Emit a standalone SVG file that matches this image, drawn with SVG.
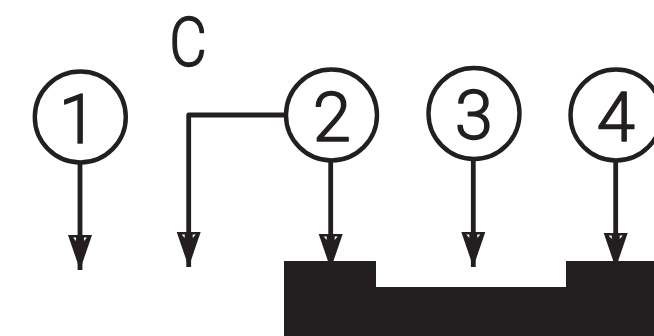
<svg xmlns="http://www.w3.org/2000/svg" width="654" height="336" viewBox="0 0 654 336">
<style>
.ring{fill:none;stroke:#231f20;stroke-width:4.4}
.num{font-family:Roboto,"Liberation Sans",sans-serif;font-weight:300;font-size:69px;fill:#231f20;stroke:#231f20;stroke-width:1.500;stroke-linejoin:round;text-anchor:middle}
.wire{fill:none;stroke:#231f20;stroke-width:4.800;stroke-linejoin:round}
.black{fill:#231f20}
</style>
<defs>
<marker id="head" markerUnits="userSpaceOnUse" markerWidth="40" markerHeight="30" viewBox="-36 -15 40 30" refX="0" refY="0" orient="auto" overflow="visible">
<path d="M-35,-12 L-35,12 L0,0 Z M-32.500,-7 L-32.500,-4 L-29,-4 Z M-32.500,7 L-32.500,4 L-29,4 Z" fill="#231f20" fill-rule="evenodd"/>
</marker>
</defs>
<rect width="654" height="336" fill="#fff"/>
<g id="connectors">
<path class="wire" d="M80,163V270" marker-end="url(#head)"/>
<path class="wire" d="M284,115H188.700V267" marker-end="url(#head)"/>
<path class="wire" d="M330.700,161V269" marker-end="url(#head)"/>
<path class="wire" d="M473.300,160V267" marker-end="url(#head)"/>
<path class="wire" d="M615.700,161V268" marker-end="url(#head)"/>
</g>
<g id="node-1"><circle class="ring" cx="80.300" cy="117" r="45.500"/><text class="num" x="78" y="143">1</text></g>
<g id="node-2"><circle class="ring" cx="331.500" cy="115" r="45.500"/><text class="num" x="332" y="141">2</text></g>
<g id="node-3"><circle class="ring" cx="474" cy="113.500" r="45.500"/><text class="num" x="474" y="139">3</text></g>
<g id="node-4"><circle class="ring" cx="616" cy="115" r="45.500"/><text class="num" x="616" y="141">4</text></g>
<g id="label-c"><text class="num" transform="translate(188,66) scale(.84,1)">C</text></g>
<g id="part"><path class="black" d="M284,261H376V287H566V261H654V336H284Z"/></g>
</svg>
